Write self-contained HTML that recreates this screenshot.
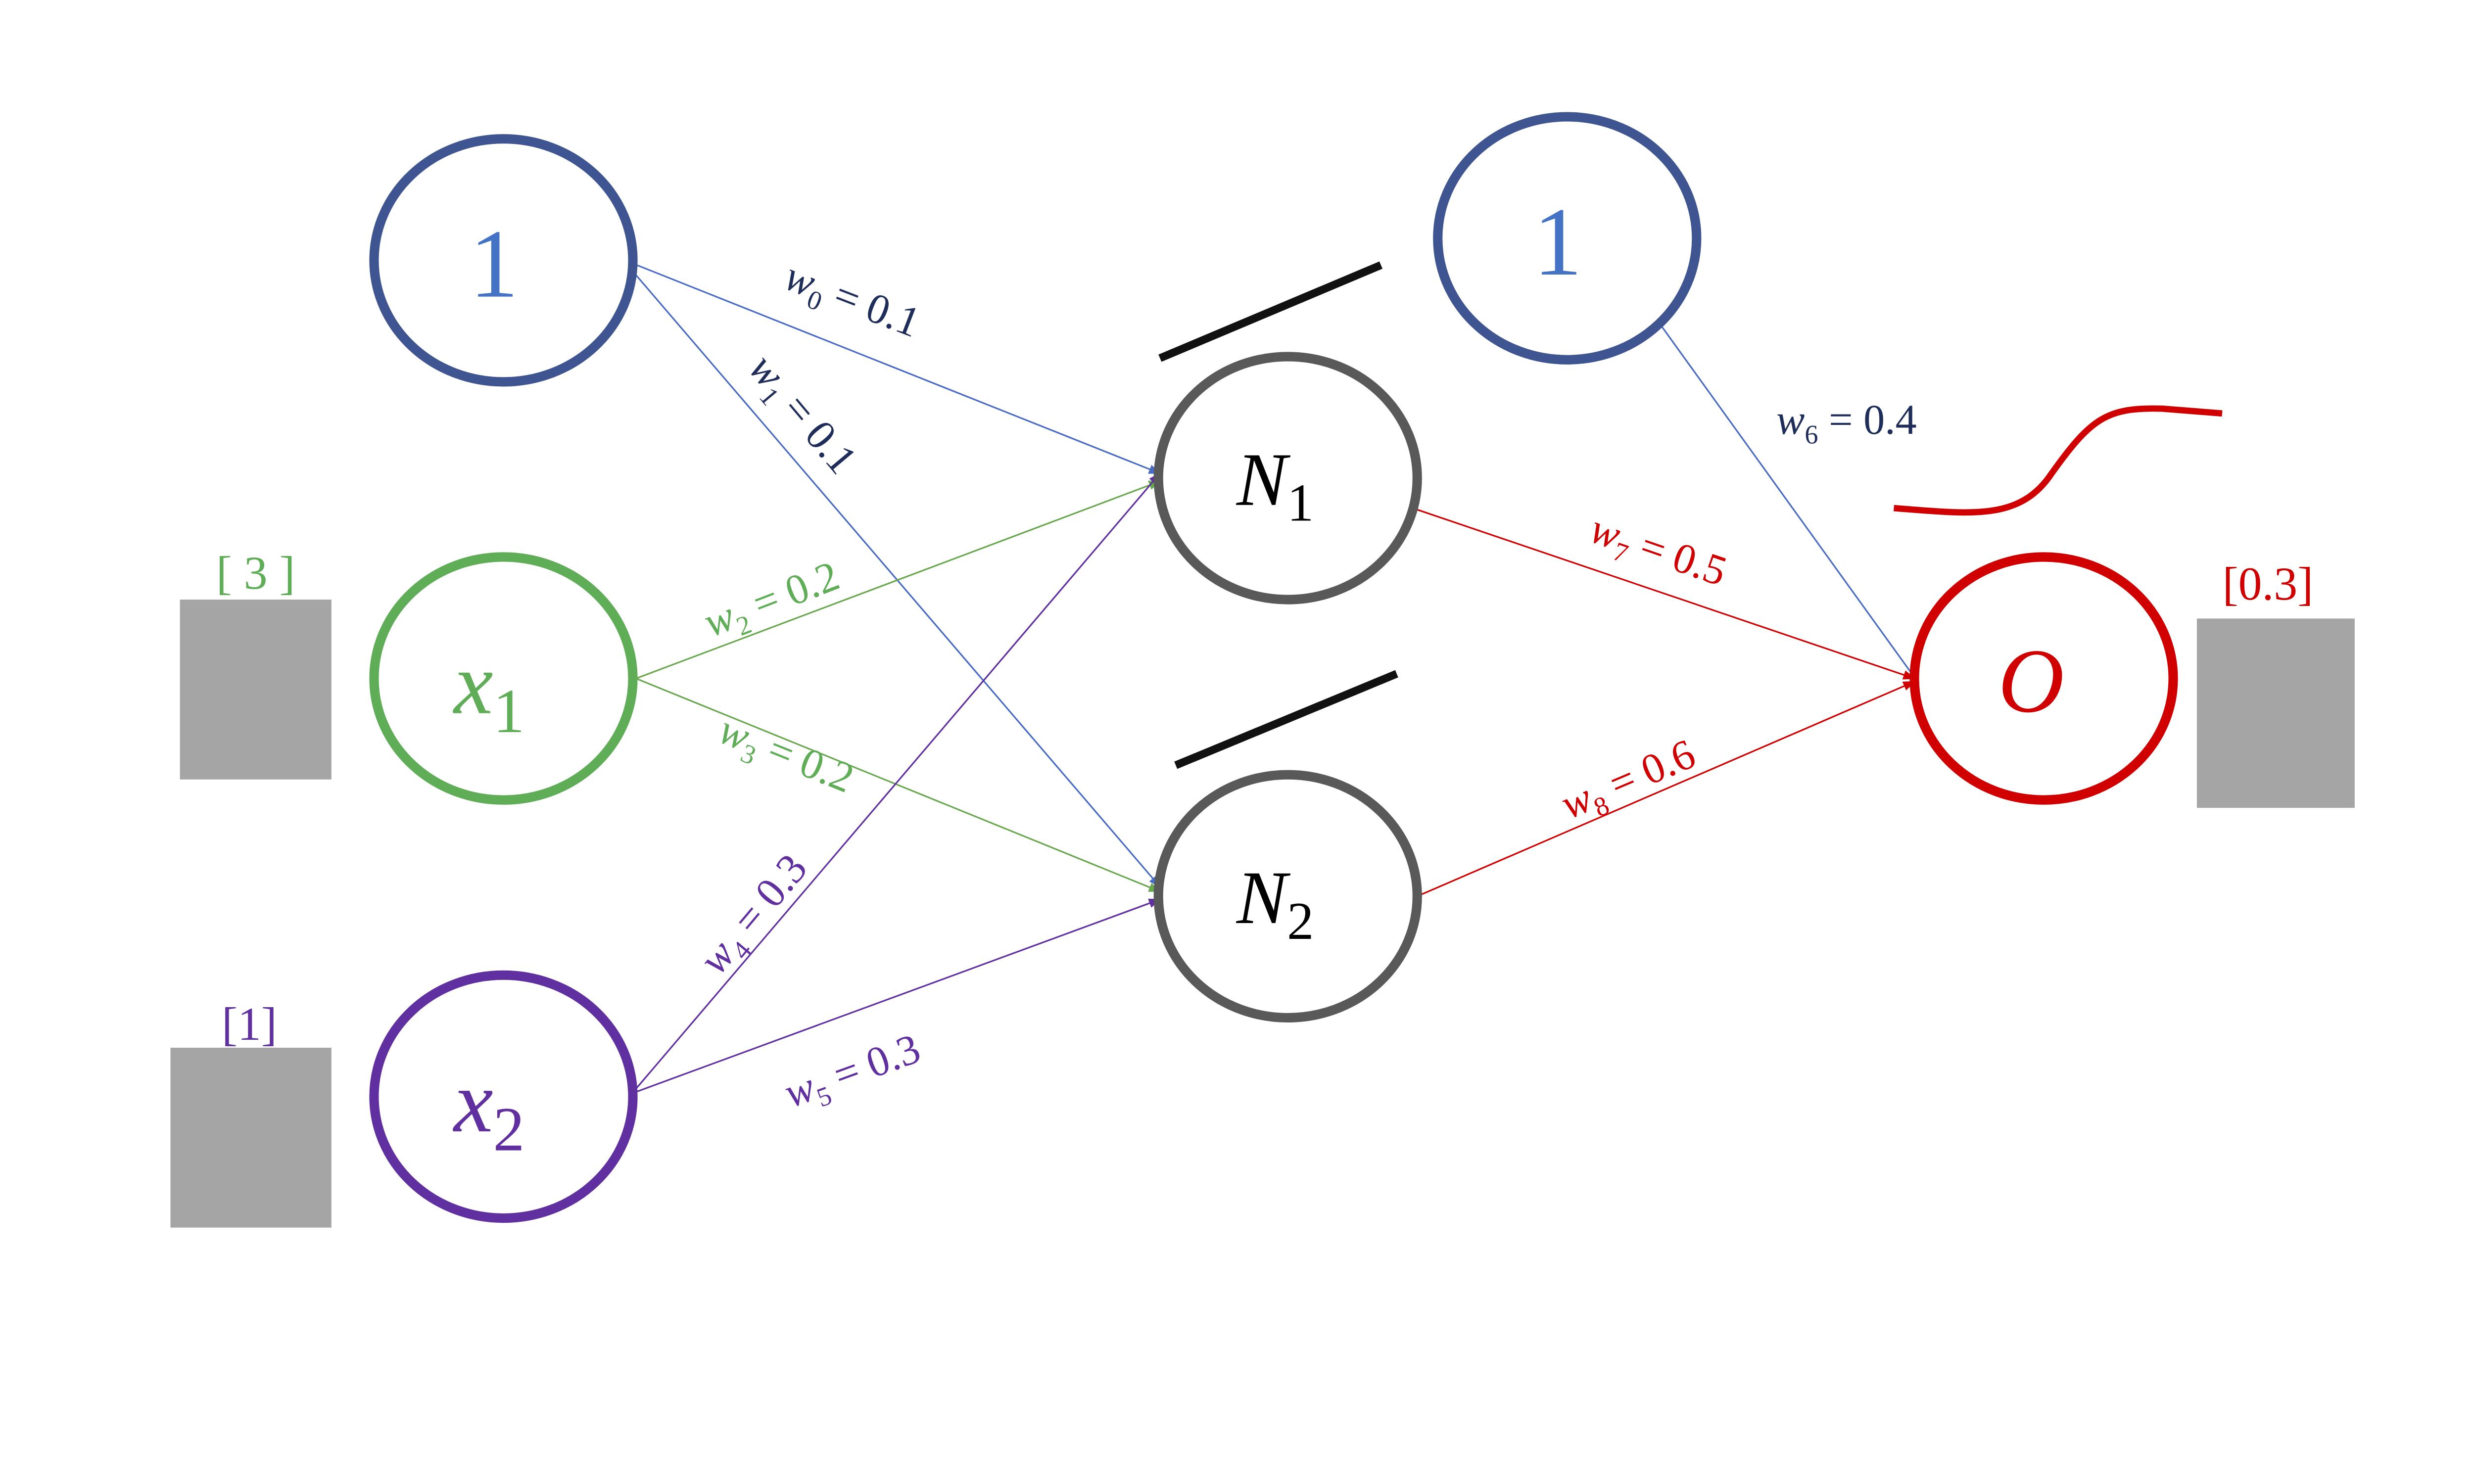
<!DOCTYPE html>
<html><head><meta charset="utf-8"><style>
html,body{margin:0;padding:0;background:#fff;overflow:hidden;width:5333px;height:3000px;}
svg{display:block;position:absolute;left:0;top:0;}
text{font-family:"Liberation Serif",serif;}
</style></head><body>
<svg width="5333" height="3000" viewBox="0 0 1672 940.5" preserveAspectRatio="none" xmlns="http://www.w3.org/2000/svg">
<defs>
<marker id="ab" markerWidth="8" markerHeight="8" refX="7" refY="4" orient="auto" markerUnits="userSpaceOnUse"><path d="M0,1 L8,4 L0,7 Z" fill="#4a6bc4"/></marker>
<marker id="ag" markerWidth="8" markerHeight="8" refX="7" refY="4" orient="auto" markerUnits="userSpaceOnUse"><path d="M0,1 L8,4 L0,7 Z" fill="#6aa84f"/></marker>
<marker id="ap" markerWidth="8" markerHeight="8" refX="7" refY="4" orient="auto" markerUnits="userSpaceOnUse"><path d="M0,1 L8,4 L0,7 Z" fill="#6030a0"/></marker>
<marker id="ar" markerWidth="8" markerHeight="8" refX="7" refY="4" orient="auto" markerUnits="userSpaceOnUse"><path d="M0,1 L8,4 L0,7 Z" fill="#d00000"/></marker>
</defs>
<rect width="1672" height="941" fill="#fff"/>
<g stroke-width="1">
<line x1="401" y1="167" x2="735" y2="300" stroke="#4a6bc4" marker-end="url(#ab)"/>
<line x1="401" y1="172" x2="735" y2="562" stroke="#4a6bc4" marker-end="url(#ab)"/>
<line x1="403" y1="430" x2="735" y2="305" stroke="#6aa84f" marker-end="url(#ag)"/>
<line x1="403" y1="430" x2="735" y2="565" stroke="#6aa84f" marker-end="url(#ag)"/>
<line x1="403" y1="690" x2="735" y2="300" stroke="#6030a0" marker-end="url(#ap)"/>
<line x1="403" y1="692" x2="735" y2="570" stroke="#6030a0" marker-end="url(#ap)"/>
<line x1="1053" y1="207" x2="1215" y2="432" stroke="#4a6bc4" marker-end="url(#ab)"/>
<line x1="898" y1="323" x2="1213" y2="430" stroke="#d00000" marker-end="url(#ar)"/>
<line x1="898" y1="568" x2="1213" y2="432" stroke="#d00000" marker-end="url(#ar)"/>
</g>
<g font-size="27">
<text transform="translate(537,198) rotate(21)" text-anchor="middle" fill="#1f2d5a"><tspan font-style="italic">w</tspan><tspan font-size="17" dy="6">0</tspan><tspan dy="-6"> = 0.1</tspan></text>
<text transform="translate(502,268) rotate(50)" text-anchor="middle" fill="#1f2d5a"><tspan font-style="italic">w</tspan><tspan font-size="17" dy="6">1</tspan><tspan dy="-6"> = 0.1</tspan></text>
<text transform="translate(492,388) rotate(-21)" text-anchor="middle" fill="#5fad56"><tspan font-style="italic">w</tspan><tspan font-size="17" dy="6">2</tspan><tspan dy="-6"> = 0.2</tspan></text>
<text transform="translate(495,486) rotate(22)" text-anchor="middle" fill="#5fad56"><tspan font-style="italic">w</tspan><tspan font-size="17" dy="6">3</tspan><tspan dy="-6"> = 0.2</tspan></text>
<text transform="translate(484,585) rotate(-50)" text-anchor="middle" fill="#6030a0"><tspan font-style="italic">w</tspan><tspan font-size="17" dy="6">4</tspan><tspan dy="-6"> = 0.3</tspan></text>
<text transform="translate(543,687) rotate(-20)" text-anchor="middle" fill="#6030a0"><tspan font-style="italic">w</tspan><tspan font-size="17" dy="6">5</tspan><tspan dy="-6"> = 0.3</tspan></text>
<text transform="translate(1170,275)" text-anchor="middle" fill="#1f2d5a"><tspan font-style="italic">w</tspan><tspan font-size="17" dy="6">6</tspan><tspan dy="-6"> = 0.4</tspan></text>
<text transform="translate(1048,357) rotate(19)" text-anchor="middle" fill="#d00000"><tspan font-style="italic">w</tspan><tspan font-size="17" dy="6">7</tspan><tspan dy="-6"> = 0.5</tspan></text>
<text transform="translate(1035,502) rotate(-23)" text-anchor="middle" fill="#d00000"><tspan font-style="italic">w</tspan><tspan font-size="17" dy="6">8</tspan><tspan dy="-6"> = 0.6</tspan></text>
</g>
<line x1="735" y1="227" x2="875" y2="168" stroke="#111" stroke-width="5"/>
<line x1="745" y1="485" x2="885" y2="427" stroke="#111" stroke-width="5"/>
<path d="M1200,322 C1250,326 1280,330 1300,300 C1325,265 1335,258 1370,259 L1408,262" fill="none" stroke="#d00000" stroke-width="4"/>
<rect x="114" y="380" width="96" height="114" fill="#a5a5a5"/>
<rect x="108" y="664" width="102" height="114" fill="#a5a5a5"/>
<rect x="1392" y="392" width="100" height="120" fill="#a5a5a5"/>
<text x="162" y="373" text-anchor="middle" font-size="30" fill="#5fad56">[ 3 ]</text>
<text x="158" y="659" text-anchor="middle" font-size="30" fill="#6030a0">[1]</text>
<text x="1437" y="380" text-anchor="middle" font-size="30" fill="#d00000">[0.3]</text>
<g fill="#fff" stroke-width="6">
<ellipse cx="319" cy="165" rx="82" ry="77" stroke="#3f5591"/>
<ellipse cx="319" cy="430" rx="82" ry="77" stroke="#5fad56"/>
<ellipse cx="319" cy="695" rx="82" ry="77" stroke="#6030a0"/>
<ellipse cx="816" cy="303" rx="82" ry="77" stroke="#595959"/>
<ellipse cx="816" cy="568" rx="82" ry="77" stroke="#595959"/>
<ellipse cx="993" cy="151" rx="82" ry="77" stroke="#3f5591"/>
<ellipse cx="1295" cy="430" rx="82" ry="77" stroke="#d00000"/>
</g>
<text x="313" y="188" text-anchor="middle" font-size="62" fill="#4472c4">1</text>
<text x="987" y="174" text-anchor="middle" font-size="62" fill="#4472c4">1</text>
<text x="310" y="452" text-anchor="middle" font-size="56" font-style="italic" fill="#5fad56">x<tspan font-size="40" font-style="normal" dy="12">1</tspan></text>
<text x="310" y="717" text-anchor="middle" font-size="56" font-style="italic" fill="#6030a0">x<tspan font-size="40" font-style="normal" dy="12">2</tspan></text>
<text x="808" y="320" text-anchor="middle" font-size="48" font-style="italic" fill="#000">N<tspan font-size="34" font-style="normal" dy="10">1</tspan></text>
<text x="808" y="585" text-anchor="middle" font-size="48" font-style="italic" fill="#000">N<tspan font-size="34" font-style="normal" dy="10">2</tspan></text>
<text x="1287" y="451" text-anchor="middle" font-size="58" font-style="italic" fill="#d00000">O</text>
</svg>
</body></html>
